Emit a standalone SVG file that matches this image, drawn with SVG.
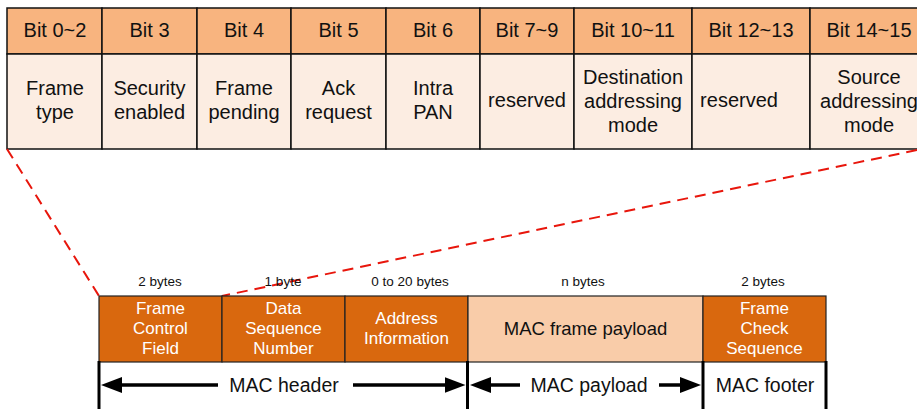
<svg xmlns="http://www.w3.org/2000/svg" width="917" height="409" viewBox="0 0 917 409">
<defs>
<style>
text{font-family:"Liberation Sans",Arial,sans-serif;text-anchor:middle}
.hd{fill:#F8B47F;stroke:#111;stroke-width:1.5}
.bd{fill:#FCEDE2;stroke:#111;stroke-width:1.5}
.t20{font-size:20px;fill:#111}
.box{fill:#D9680E;stroke:#222;stroke-width:1.2}
.pay{fill:#F9CCA9;stroke:#222;stroke-width:1.2}
.wt{font-size:17px;fill:#fff}
.sm{font-size:13.5px;fill:#111}
.lbl{font-size:19.5px;fill:#111}
.vl{stroke:#000;stroke-width:3}
.ar{stroke:#000;stroke-width:3.5;marker-end:url(#ah)}
.dash{stroke:#E8160C;stroke-width:2;stroke-dasharray:11,7;fill:none}
</style>
<marker id="ah" viewBox="0 0 21 16" refX="11" refY="8" markerWidth="6" markerHeight="4.571" orient="auto" markerUnits="strokeWidth">
<path d="M0,0 L21,8 L0,16 z" fill="#000"/>
</marker>
</defs>

<g id="bits">
<g id="b0"><rect class="hd" x="7" y="8" width="95" height="46"/><rect class="bd" x="7" y="54" width="95" height="95"/><text class="t20" x="55" y="37">Bit 0~2</text><text class="t20" x="55" y="95">Frame</text><text class="t20" x="55" y="119">type</text></g>
<g id="b3"><rect class="hd" x="102" y="8" width="95" height="46"/><rect class="bd" x="102" y="54" width="95" height="95"/><text class="t20" x="149.5" y="37">Bit 3</text><text class="t20" x="149.5" y="95">Security</text><text class="t20" x="149.5" y="119">enabled</text></g>
<g id="b4"><rect class="hd" x="197" y="8" width="94" height="46"/><rect class="bd" x="197" y="54" width="94" height="95"/><text class="t20" x="244" y="37">Bit 4</text><text class="t20" x="244" y="95">Frame</text><text class="t20" x="244" y="119">pending</text></g>
<g id="b5"><rect class="hd" x="291" y="8" width="95" height="46"/><rect class="bd" x="291" y="54" width="95" height="95"/><text class="t20" x="338.5" y="37">Bit 5</text><text class="t20" x="338.5" y="95">Ack</text><text class="t20" x="338.5" y="119">request</text></g>
<g id="b6"><rect class="hd" x="386" y="8" width="94" height="46"/><rect class="bd" x="386" y="54" width="94" height="95"/><text class="t20" x="433" y="37">Bit 6</text><text class="t20" x="433" y="95">Intra</text><text class="t20" x="433" y="119">PAN</text></g>
<g id="b7"><rect class="hd" x="480" y="8" width="94" height="46"/><rect class="bd" x="480" y="54" width="94" height="95"/><text class="t20" x="527" y="37">Bit 7~9</text><text class="t20" x="527" y="107">reserved</text></g>
<g id="b10"><rect class="hd" x="574" y="8" width="118" height="46"/><rect class="bd" x="574" y="54" width="118" height="95"/><text class="t20" x="633" y="37">Bit 10~11</text><text class="t20" x="633" y="84">Destination</text><text class="t20" x="633" y="108">addressing</text><text class="t20" x="633" y="132">mode</text></g>
<g id="b12"><rect class="hd" x="692" y="8" width="118" height="46"/><rect class="bd" x="692" y="54" width="118" height="95"/><text class="t20" x="751" y="37">Bit 12~13</text><text class="t20" x="739" y="107">reserved</text></g>
<g id="b14"><rect class="hd" x="810" y="8" width="118" height="46"/><rect class="bd" x="810" y="54" width="118" height="95"/><text class="t20" x="869" y="37">Bit 14~15</text><text class="t20" x="869" y="84">Source</text><text class="t20" x="869" y="108">addressing</text><text class="t20" x="869" y="132">mode</text></g>
</g>

<g id="connectors">
<line class="dash" x1="7" y1="149" x2="99" y2="296"/>
<line class="dash" x1="917" y1="150" x2="222" y2="296"/>
</g>

<g id="frame">
<g id="fcf"><text class="sm" x="160" y="286">2 bytes</text><rect class="box" x="99" y="296" width="123" height="66"/><text class="wt" x="160.5" y="314">Frame</text><text class="wt" x="160.5" y="334">Control</text><text class="wt" x="160.5" y="354">Field</text></g>
<g id="dsn"><text class="sm" x="283" y="286">1 byte</text><rect class="box" x="222" y="296" width="123" height="66"/><text class="wt" x="283.5" y="314">Data</text><text class="wt" x="283.5" y="334">Sequence</text><text class="wt" x="283.5" y="354">Number</text></g>
<g id="addr"><text class="sm" x="410" y="286">0 to 20 bytes</text><rect class="box" x="345" y="296" width="123" height="66"/><text class="wt" x="406.5" y="324">Address</text><text class="wt" x="406.5" y="344">Information</text></g>
<g id="payload"><text class="sm" x="583" y="286">n bytes</text><rect class="pay" x="468" y="296" width="235" height="66"/><text x="585.5" y="335" style="font-size:18.5px;fill:#111">MAC frame payload</text></g>
<g id="fcs"><text class="sm" x="763" y="286">2 bytes</text><rect class="box" x="703" y="296" width="123" height="66"/><text class="wt" x="764.5" y="314">Frame</text><text class="wt" x="764.5" y="334">Check</text><text class="wt" x="764.5" y="354">Sequence</text></g>
</g>

<g id="spans">
<line class="vl" x1="99" y1="361" x2="99" y2="409"/>
<line class="vl" x1="467.5" y1="361" x2="467.5" y2="409"/>
<line class="vl" x1="703" y1="361" x2="703" y2="409"/>
<line class="vl" x1="826" y1="361" x2="826" y2="409"/>
<line class="ar" x1="218" y1="385" x2="111" y2="385"/>
<line class="ar" x1="353" y1="385" x2="455.5" y2="385"/>
<line class="ar" x1="520" y1="385" x2="480" y2="385"/>
<line class="ar" x1="659" y1="385" x2="691" y2="385"/>
<text class="lbl" x="284" y="392">MAC header</text>
<text class="lbl" x="589" y="392">MAC payload</text>
<text class="lbl" x="765" y="392">MAC footer</text>
</g>
</svg>
